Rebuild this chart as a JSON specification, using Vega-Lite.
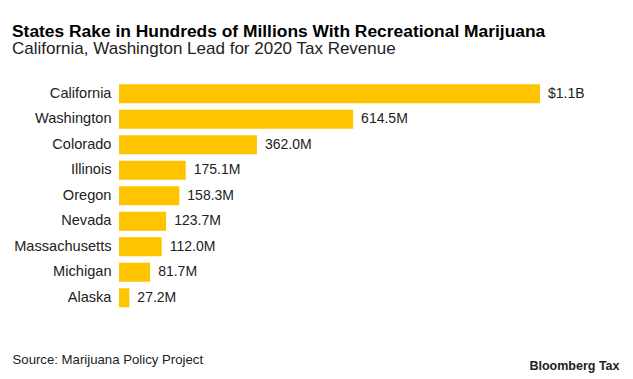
{
  "$schema": "https://vega.github.io/schema/vega-lite/v6.json",
  "autosize": "none",
  "width": 421,
  "height": 229.5,
  "padding": {"left": 119, "top": 81, "right": 93, "bottom": 68.5},
  "background": "white",
  "config": {"view": {"stroke": null}, "font": "Liberation Sans"},
  "title": {
    "text": "States Rake in Hundreds of Millions With Recreational Marijuana",
    "subtitle": "California, Washington Lead for 2020 Tax Revenue",
    "anchor": "start",
    "frame": "group",
    "dx": -107,
    "offset": 24,
    "font": "Liberation Sans",
    "fontSize": 17.4,
    "fontWeight": "bold",
    "color": "#000000",
    "subtitleFont": "Liberation Sans",
    "subtitleFontSize": 17,
    "subtitleColor": "#222222",
    "subtitlePadding": 1
  },
  "data": {
    "values": [
      {"state": "California", "revenue": 1105, "label": "$1.1B"},
      {"state": "Washington", "revenue": 614.5, "label": "614.5M"},
      {"state": "Colorado", "revenue": 362.0, "label": "362.0M"},
      {"state": "Illinois", "revenue": 175.1, "label": "175.1M"},
      {"state": "Oregon", "revenue": 158.3, "label": "158.3M"},
      {"state": "Nevada", "revenue": 123.7, "label": "123.7M"},
      {"state": "Massachusetts", "revenue": 112.0, "label": "112.0M"},
      {"state": "Michigan", "revenue": 81.7, "label": "81.7M"},
      {"state": "Alaska", "revenue": 27.2, "label": "27.2M"}
    ]
  },
  "encoding": {
    "y": {
      "field": "state",
      "type": "nominal",
      "sort": null,
      "scale": {"paddingInner": 0.255, "paddingOuter": 0.127},
      "axis": {
        "title": "Bloomberg Tax",
        "titleAngle": 0,
        "titleAlign": "right",
        "titleBaseline": "alphabetic",
        "titleX": 500,
        "titleY": 288,
        "titleFont": "Liberation Sans",
        "titleFontSize": 12.5,
        "titleFontWeight": "bold",
        "titleColor": "#222222",
        "domain": false,
        "ticks": false,
        "labelPadding": 8,
        "labelFont": "Liberation Sans",
        "labelFontSize": 14.6,
        "labelColor": "#222222"
      }
    },
    "x": {
      "field": "revenue",
      "type": "quantitative",
      "scale": {"domain": [0, 1105]},
      "axis": {
        "title": "Source: Marijuana Policy Project",
        "titleAnchor": "start",
        "titleAlign": "left",
        "titleBaseline": "alphabetic",
        "titleX": -107,
        "titleY": 52.5,
        "titleFont": "Liberation Sans",
        "titleFontSize": 13.2,
        "titleFontWeight": "normal",
        "titleColor": "#222222",
        "domain": false,
        "ticks": false,
        "labels": false,
        "grid": false
      }
    }
  },
  "layer": [
    {"mark": {"type": "bar", "color": "#FFC400"}},
    {
      "mark": {"type": "text", "align": "left", "baseline": "middle", "dx": 8, "font": "Liberation Sans", "fontSize": 14, "color": "#222222"},
      "encoding": {"text": {"field": "label"}}
    }
  ]
}
